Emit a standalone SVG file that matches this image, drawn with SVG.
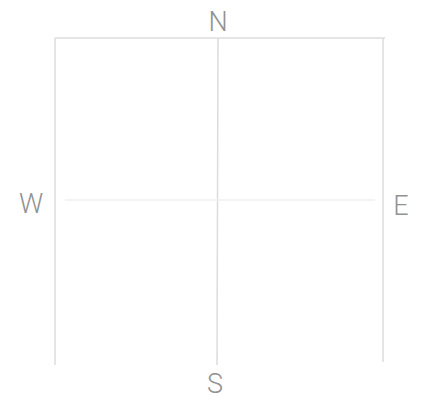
<svg xmlns="http://www.w3.org/2000/svg" width="422" height="402" viewBox="0 0 422 402">
<style>
.ln{stroke:#dcdcdc;stroke-width:1.5;fill:none}
.fl{stroke:#efefef;stroke-width:1.5;fill:none}
.lb{font-family:Roboto,"Liberation Sans",sans-serif;font-weight:300;font-size:27px;fill:#929292;text-anchor:middle}
</style>
<rect width="422" height="402" fill="#fff"/>
<g id="connectors">
<line class="ln" x1="55" y1="38" x2="385" y2="38"/>
<line class="ln" x1="55" y1="38" x2="55" y2="365"/>
<line class="ln" x1="383" y1="38" x2="383" y2="362"/>
<line class="ln" x1="218" y1="38" x2="217" y2="365"/>
<line class="fl" x1="65" y1="200" x2="375" y2="200"/>
</g>
<g id="N"><text class="lb" x="218" y="31">N</text></g>
<g id="W"><text class="lb" x="31" y="213">W</text></g>
<g id="E"><text class="lb" x="401" y="215">E</text></g>
<g id="S"><text class="lb" x="215" y="393">S</text></g>
</svg>
